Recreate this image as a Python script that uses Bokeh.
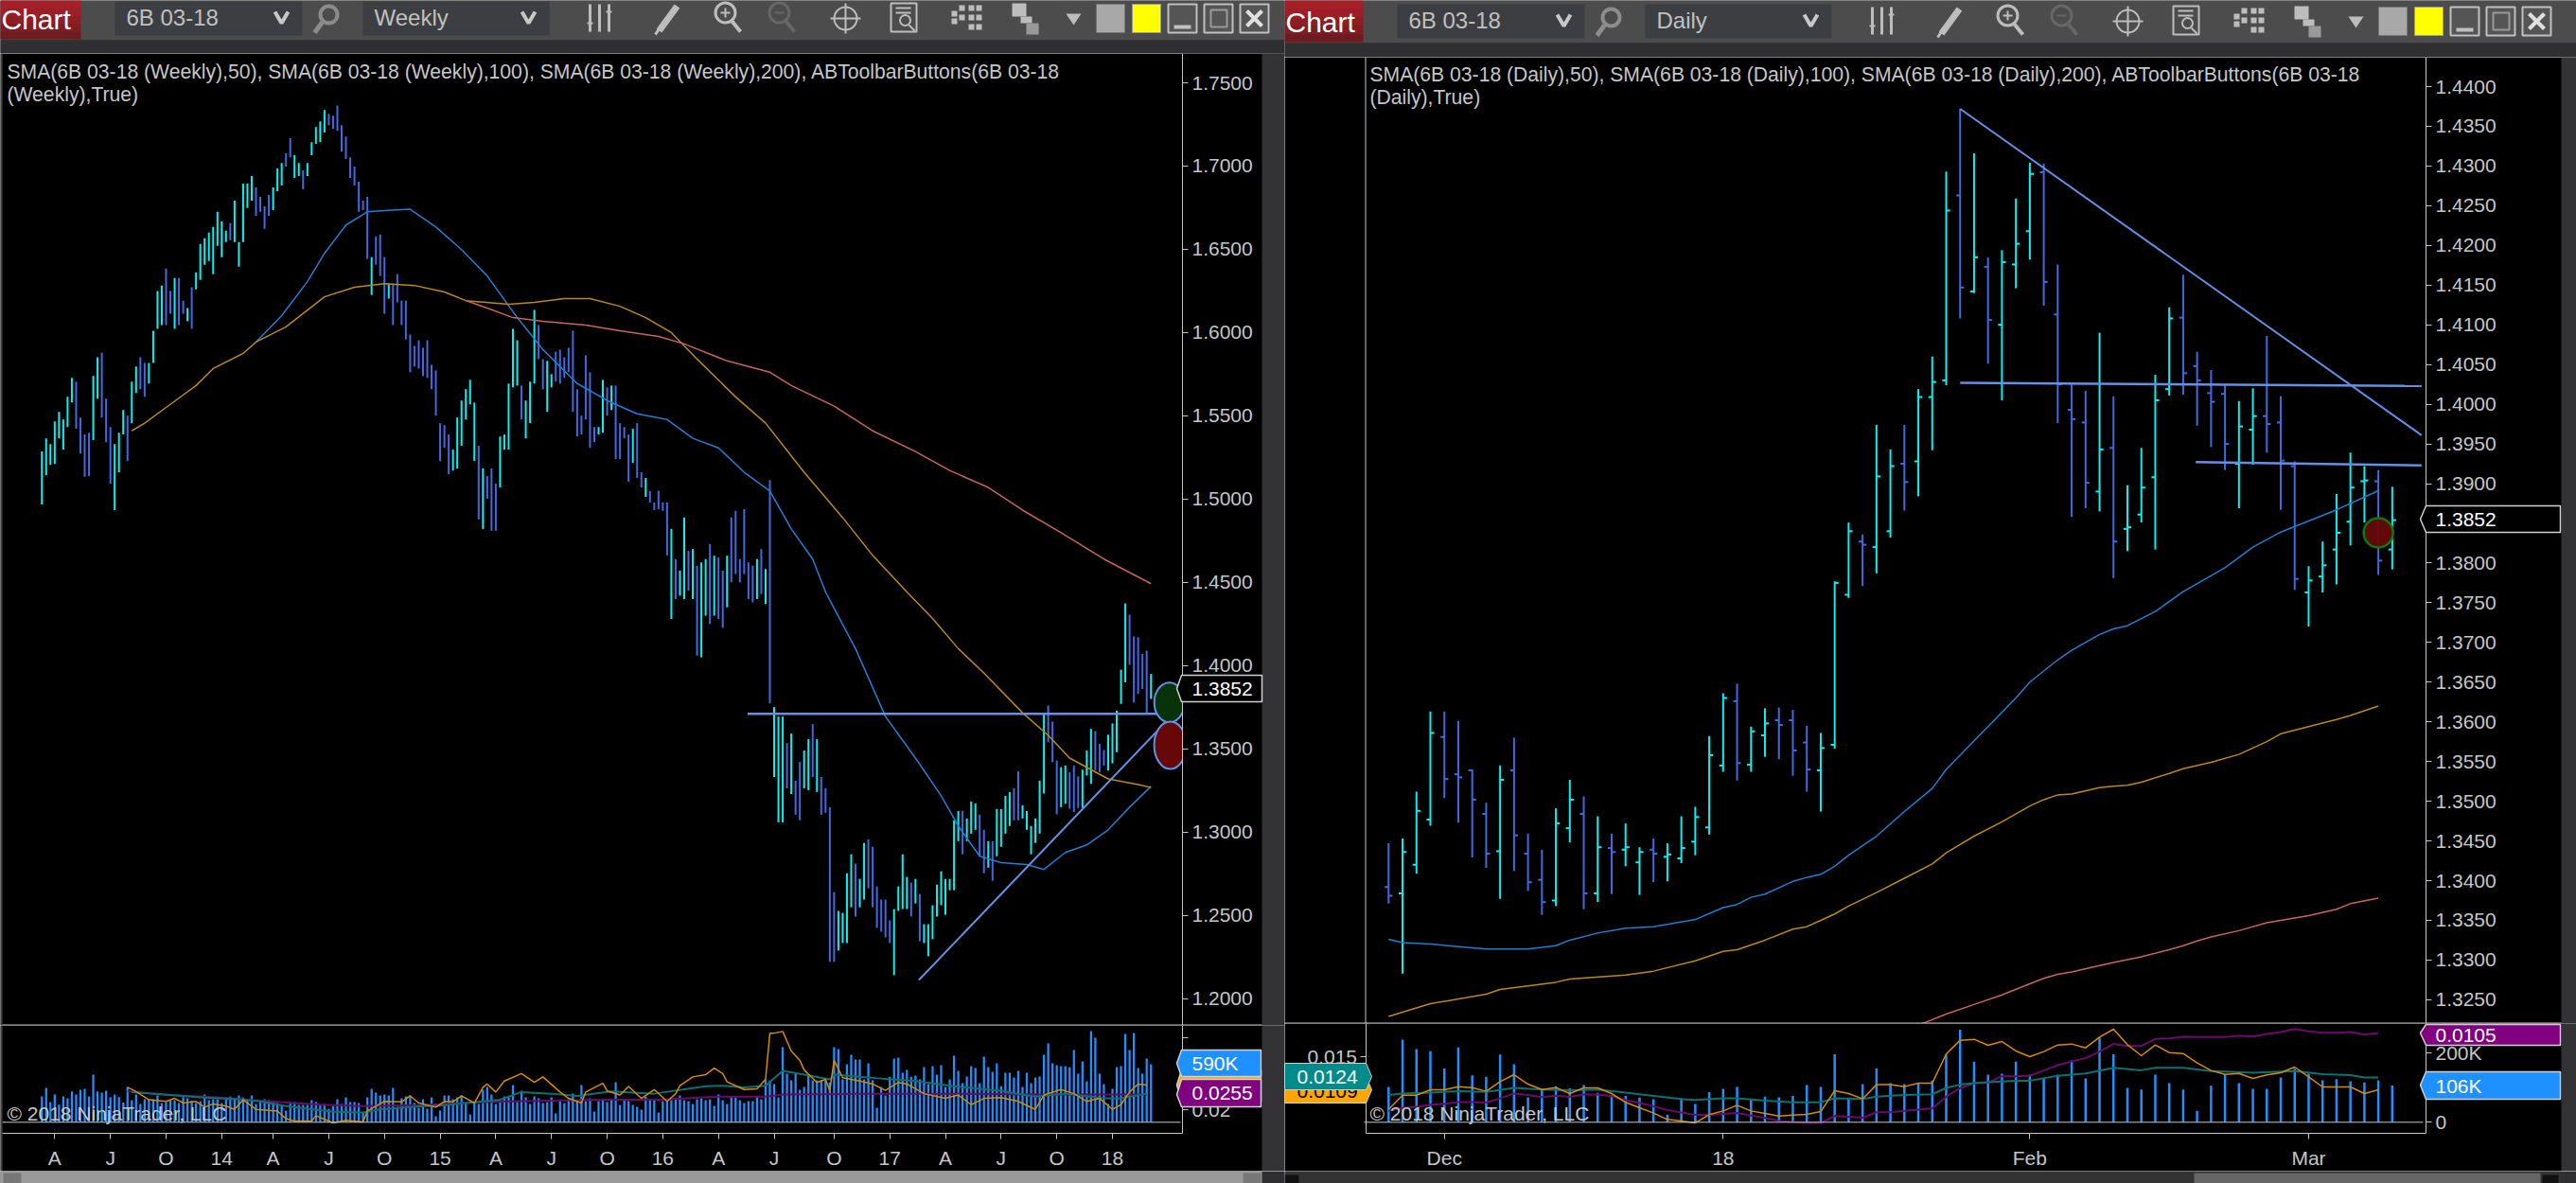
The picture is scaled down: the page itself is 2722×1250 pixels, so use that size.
from bokeh.plotting import figure
from bokeh.layouts import row, column
from bokeh.models import Range1d, LinearAxis, FixedTicker, NumeralTickFormatter
from bokeh.core.properties import value
from bokeh.embed import file_html
from bokeh.resources import INLINE

# ---------- weekly chart data ----------
weekly_high = [1.5286,1.5365,1.5331,1.5467,1.5524,1.5478,1.5614,1.5728,1.5705,1.5490,
1.5388,1.5399,1.5739,1.5852,1.5879,1.5603,1.5433,1.5331,1.5399,1.5535,
1.5501,1.5705,1.5796,1.5852,1.5818,1.5818,1.6011,1.6249,1.6283,1.6385,
1.6249,1.6328,1.6328,1.6192,1.6147,1.6272,1.6362,1.6532,1.6566,1.6600,
1.6634,1.6725,1.6668,1.6612,1.6657,1.6793,1.6544,1.6895,1.6895,1.6940,
1.6872,1.6815,1.6759,1.6827,1.6872,1.6985,1.7019,1.7076,1.7167,1.7065,
1.7019,1.6974,1.7019,1.7144,1.7235,1.7269,1.7337,1.7314,1.7303,1.7364,
1.7246,1.7178,1.7053,1.6997,1.6906,1.6793,1.6815,1.6453,1.6578,1.6589,
1.6453,1.6294,1.6294,1.6351,1.6192,1.6192,1.5988,1.5920,1.5954,1.5909,
1.5954,1.5807,1.5773,1.5456,1.5444,1.5388,1.5297,1.5490,1.5592,1.5660,
1.5716,1.5580,1.5320,1.5184,1.5138,1.5184,1.5093,1.5376,1.5388,1.5694,
1.6022,1.5954,1.5682,1.5592,1.5705,1.6136,1.6045,1.5841,1.5830,1.5750,
1.5886,1.5898,1.5852,1.5909,1.6011,1.5660,1.5501,1.5864,1.5762,1.5433,
1.5433,1.5716,1.5671,1.5682,1.5682,1.5456,1.5433,1.5388,1.5422,1.5456,
1.5161,1.5127,1.5048,1.4980,1.5050,1.4980,1.4980,1.4821,1.4640,1.4570,
1.4890,1.4690,1.4700,1.4600,1.4620,1.4640,1.4730,1.4660,1.4650,1.4570,
1.4660,1.4890,1.4930,1.4640,1.4940,1.4620,1.4600,1.4640,1.4700,1.4580,
1.5115,1.3751,1.3694,1.3694,1.3535,1.3592,1.3309,1.3422,1.3490,1.3558,
1.3649,1.3558,1.3331,1.3263,1.3150,1.2640,1.2527,1.2515,1.2753,1.2867,
1.2810,1.2719,1.2935,1.2957,1.2912,1.2674,1.2595,1.2595,1.2470,1.2538,
1.2674,1.2867,1.2731,1.2697,1.2719,1.2629,1.2447,1.2447,1.2561,1.2685,
1.2765,1.2719,1.2719,1.3071,1.3127,1.3127,1.3082,1.3184,1.3173,1.3105,
1.3014,1.2946,1.2946,1.3139,1.3139,1.3218,1.3241,1.3263,1.3365,1.3161,
1.3127,1.3037,1.3082,1.3309,1.3715,1.3760,1.3664,1.3430,1.3390,1.3400,
1.3360,1.3400,1.3335,1.3375,1.3490,1.3620,1.3607,1.3530,1.3493,1.3585,
1.3653,1.3730,1.3976,1.4374,1.4306,1.4175,1.4170,1.4070,1.4090,1.3950]
weekly_low = [1.4968,1.5143,1.5206,1.5211,1.5365,1.5297,1.5433,1.5580,1.5422,1.5274,
1.5134,1.5138,1.5354,1.5603,1.5490,1.5342,1.5093,1.4934,1.5161,1.5388,
1.5229,1.5456,1.5637,1.5660,1.5614,1.5694,1.5818,1.6022,1.6045,1.6045,
1.6113,1.6022,1.6045,1.6113,1.6068,1.6022,1.6260,1.6317,1.6408,1.6430,
1.6351,1.6521,1.6453,1.6544,1.6555,1.6544,1.6396,1.6544,1.6748,1.6793,
1.6702,1.6725,1.6623,1.6702,1.6736,1.6849,1.6883,1.6997,1.7053,1.6929,
1.6940,1.6861,1.6940,1.7065,1.7133,1.7144,1.7201,1.7246,1.7223,1.7212,
1.7087,1.7042,1.6929,1.6883,1.6725,1.6736,1.6442,1.6226,1.6408,1.6340,
1.6113,1.6204,1.6045,1.6181,1.6045,1.5959,1.5762,1.5796,1.5784,1.5739,
1.5728,1.5660,1.5501,1.5229,1.5308,1.5150,1.5172,1.5184,1.5320,1.5478,
1.5569,1.5229,1.4878,1.4821,1.5002,1.4810,1.4810,1.5070,1.5297,1.5297,
1.5671,1.5682,1.5478,1.5365,1.5456,1.5694,1.5841,1.5660,1.5524,1.5671,
1.5705,1.5694,1.5728,1.5762,1.5524,1.5376,1.5388,1.5478,1.5308,1.5342,
1.5388,1.5399,1.5501,1.5535,1.5240,1.5240,1.5365,1.5104,1.5218,1.5127,
1.5070,1.5014,1.4980,1.4934,1.4940,1.4930,1.4662,1.4280,1.4400,1.4420,
1.4400,1.4450,1.4400,1.4060,1.4050,1.4300,1.4250,1.4300,1.4280,1.4227,
1.4350,1.4500,1.4550,1.4500,1.4550,1.4400,1.4380,1.4400,1.4430,1.4370,
1.3773,1.3331,1.3059,1.3059,1.3263,1.3229,1.3105,1.3071,1.3263,1.3252,
1.3331,1.3241,1.3105,1.3116,1.2221,1.2221,1.2289,1.2334,1.2334,1.2549,
1.2493,1.2549,1.2595,1.2663,1.2549,1.2425,1.2402,1.2368,1.2334,1.2141,
1.2527,1.2538,1.2538,1.2493,1.2572,1.2345,1.2334,1.2255,1.2357,1.2493,
1.2561,1.2504,1.2651,1.2651,1.2946,1.2867,1.2946,1.2991,1.3014,1.2855,
1.2753,1.2787,1.2708,1.2855,1.2912,1.2991,1.3037,1.3071,1.3071,1.3082,
1.3014,1.2867,1.2935,1.2991,1.3232,1.3540,1.3420,1.3107,1.3150,1.3170,
1.3140,1.3120,1.3145,1.3145,1.3340,1.3290,1.3372,1.3360,1.3400,1.3370,
1.3413,1.3480,1.3770,1.3900,1.4005,1.3778,1.3830,1.3860,1.3710,1.3800]
weekly_dir = ("CCCCCCCCBB" "BBCCBBBCCC" "BCCBBCCCCB" "BCBBCBCCCC" "CCCCBCCCCC"
              "BBBBCCCBBC" "CBCCCCCBBB" "BBBBBBBCBB" "BCBBBBBBBB" "BBBBBBCCCC"
              "CCBCBBBCCC" "CCBCCCBBCC" "BBBBBBBBBB" "CCBCBBBBCB" "BCBBBBBCBC"
              "CBCBCCBCBB" "CBBBBBBCBC" "BCCCBCBBCC" "BCBBBBCCCC" "BCCBBBBBBC"
              "CCCBCBCCCC" "CCCCCBCCCB" "BCBCCCCBBC" "CCCCCBBBCC" "BBBCCCBBBC"
              "CCCCBBBBBC")
weekly_vol = [263,349,205,282,179,263,244,314,282,330,
340,263,484,314,301,321,256,282,256,199,
359,224,282,186,234,234,234,272,196,205,
224,224,196,256,244,221,196,215,282,224,
234,234,196,244,263,234,272,253,234,272,
186,205,234,224,205,196,176,119,205,205,
176,176,176,224,205,176,186,138,167,234,
186,253,205,205,196,99,253,340,301,272,
282,272,349,157,244,263,272,196,147,234,
138,253,61,119,272,272,234,253,272,196,
80,196,186,330,359,282,186,205,263,253,
378,215,321,253,186,263,244,196,205,253,
90,215,196,237,292,224,378,215,244,109,
215,224,205,234,407,176,234,215,176,157,
128,263,234,234,99,215,
215,224,234,272,224,215,186,234,244,224,
234,167,282,224,186,253,253,224,196,215,
215,263,234,436,426,388,253,763,494,426,
494,330,359,474,426,426,426,426,404,763,
744,436,590,686,638,638,436,599,426,147,
359,272,462,647,657,503,532,462,474,436,
561,388,571,484,580,359,436,676,522,397,
465,571,551,397,667,561,513,599,365,503,
503,455,522,359,503,397,455,465,686,801,
599,580,571,571,558,734,494,619,417,926,
859,494,388,186,340,561,571,897,734,907,
551,494,647,590]
w_sma50_i = [50,56,62,66,71,76,81,86,92,98,104,111,117,125,132,139,146,152,158,164,170,175,180,183,190,197,204,210,214,219,224,230,234,239,244,249,254,259]
w_sma50 = [1.5943,1.6102,1.6306,1.6476,1.6646,1.6725,1.6734,1.6741,1.6634,1.6498,1.6340,1.6090,1.5898,1.5694,1.5592,1.5512,1.5478,1.5365,1.5308,1.5161,1.5048,1.4821,1.4640,1.4442,1.4102,1.3694,1.3445,1.3218,1.3037,1.2855,1.2817,1.2806,1.2776,1.2878,1.2923,1.3014,1.3150,1.3275]
w_sma100_i = [21,24,30,36,40,47,50,57,66,73,80,87,94,99,109,115,122,128,135,141,147,153,162,169,178,187,194,202,208,214,220,229,235,240,249,256,259]
w_sma100 = [1.5410,1.5456,1.5569,1.5682,1.5784,1.5875,1.5943,1.6034,1.6215,1.6272,1.6294,1.6283,1.6244,1.6192,1.6170,1.6181,1.6204,1.6204,1.6158,1.6090,1.6000,1.5841,1.5614,1.5456,1.5161,1.4889,1.4662,1.4442,1.4283,1.4102,1.3955,1.3717,1.3581,1.3445,1.3320,1.3286,1.3268]
w_sma200_i = [99,104,110,117,127,135,144,150,160,170,175,185,194,204,212,221,229,238,248,259]
w_sma200 = [1.6192,1.6147,1.6090,1.6068,1.6045,1.6011,1.5977,1.5932,1.5830,1.5762,1.5682,1.5558,1.5410,1.5286,1.5172,1.5070,1.4934,1.4798,1.4640,1.4492]
w_atr_i = [20,22,25,29,31,33,36,38,40,43,45,47,50,55,57,59,63,64,68,71,75,76,80,84,86,88,92,94,96,98,101,103,104,106,108,112,115,117,121,123,126,127,131,132,135,137,140,143,
146,148,149,152,155,157,159,160,164,167,169,170,171,173,175,177,178,181,183,184,185,187,191,194,197,200,202,204,206,211,214,217,220,224,228,232,234,238,241,244,247,250,252,254,256,258]
w_atr = [.0281,.0266,.0236,.0230,.0241,.0224,.0230,.0209,.0221,.0213,.0201,.0236,.0201,.0195,.0167,.0159,.0159,.0178,.0152,.0161,.0155,.0195,.0230,.0228,.0250,.0224,.0209,.0230,.0228,.0250,.0224,.0281,.0293,.0264,.0304,.0331,.0299,.0319,.0264,.0241,.0224,.0264,.0296,.0268,.0253,.0284,.0241,.0273,
.0230,.0258,.0287,.0319,.0327,.0351,.0331,.0301,.0273,.0276,.0310,.0478,.0478,.0484,.0413,.0379,.0344,.0299,.0310,.0270,.0379,.0316,.0304,.0293,.0270,.0299,.0293,.0276,.0258,.0241,.0253,.0218,.0241,.0244,.0230,.0201,.0253,.0273,.0258,.0230,.0241,.0201,.0218,.0264,.0293,.0289]
w_teal_i = [21,38,46,51,57,68,75,79,89,92,99,107,112,119,125,133,143,155,159,164,169,173,178,184,185,196,204,213,224,232,239,248,252,258]
w_teal = [.0264,.0244,.0238,.0230,.0213,.0192,.0190,.0201,.0213,.0213,.0224,.0236,.0264,.0258,.0250,.0266,.0258,.0285,.0287,.0281,.0287,.0341,.0327,.0310,.0327,.0313,.0304,.0285,.0268,.0247,.0258,.0241,.0241,.0258]
w_purple_i = [20,30,42,53,65,75,89,104,119,131,144,158,169,173,194,214,234,258]
w_purple = [.0266,.0253,.0244,.0230,.0218,.0213,.0216,.0228,.0233,.0236,.0236,.0247,.0247,.0255,.0258,.0258,.0255,.0255]
w_ticks = [3,16,29,42,54,67,80,93,106,119,132,145,158,171,185,198,211,224,237,250]
w_tick_labels = ["A","J","O","14","A","J","O","15","A","J","O","16","A","J","O","17","A","J","O","18"]
w_hline_i = [164.8,266]; w_hline = [1.3710,1.3710]
w_trend_i = [204.8,266.6]; w_trend = [1.2112,1.3772]

# ---------- daily chart data ----------
daily_high = [1.3447,1.3453,1.3512,1.3613,1.3613,1.3601,1.3540,1.3498,1.3545,1.3580,
1.3459,1.3439,1.3491,1.3527,1.3506,1.3481,1.3459,1.3472,1.3442,1.3453,
1.3447,1.3481,1.3493,1.3582,1.3636,1.3648,1.3594,1.3617,1.3618,1.3615,
1.3595,1.3586,1.3777,1.3851,1.3836,1.3974,1.3943,1.3974,1.4019,1.4060,
1.4293,1.4372,1.4316,1.4185,1.4194,1.4259,1.4304,1.4303,1.4176,1.4025,
1.4017,1.4090,1.4010,1.3898,1.3945,1.4037,1.4122,1.4163,1.4066,1.4043,
1.4024,1.4004,1.4020,1.4086,1.4010,1.3928,1.3796,1.3827,1.3887,1.3939,
1.3922,1.3917,1.3896]
daily_low = [1.3371,1.3283,1.3409,1.3469,1.3504,1.3473,1.3429,1.3416,1.3377,1.3412,
1.3387,1.3357,1.3368,1.3448,1.3364,1.3373,1.3383,1.3418,1.3382,1.3398,
1.3399,1.3422,1.3432,1.3458,1.3537,1.3526,1.3537,1.3556,1.3553,1.3532,
1.3512,1.3487,1.3566,1.3756,1.3771,1.3787,1.3832,1.3866,1.3884,1.3942,
1.4024,1.4108,1.4140,1.4051,1.4005,1.4146,1.4182,1.4124,1.3976,1.3858,
1.3869,1.3865,1.3781,1.3815,1.3851,1.3817,1.4011,1.4012,1.3973,1.3946,
1.3917,1.3869,1.3924,1.3939,1.3867,1.3766,1.3720,1.3763,1.3773,1.3822,
1.3851,1.3785,1.3792]
daily_open = [1.3392,1.3384,1.3420,1.3477,1.3581,1.3534,1.3539,1.3484,1.3437,1.3539,
1.3434,1.3401,1.3375,1.3466,1.3484,1.3384,1.3441,1.3439,1.3423,1.3439,
1.3430,1.3428,1.3449,1.3467,1.3545,1.3626,1.3546,1.3583,1.3602,1.3602,
1.3574,1.3539,1.3571,1.3760,1.3827,1.3820,1.3840,1.3925,1.3928,1.4009,
1.4030,1.4263,1.4142,1.4173,1.4100,1.4176,1.4218,1.4292,1.4113,1.3993,
1.3977,1.3890,1.3945,1.3843,1.3861,1.3908,1.4019,1.4109,1.4048,1.4014,
1.4013,1.3925,1.3968,1.3985,1.3977,1.3922,1.3763,1.3783,1.3817,1.3852,
1.3903,1.3903,1.3817]
daily_close = [1.3381,1.3436,1.3488,1.3586,1.3528,1.3530,1.3502,1.3434,1.3527,1.3457,
1.3398,1.3373,1.3472,1.3502,1.3384,1.3442,1.3436,1.3442,1.3436,1.3434,
1.3433,1.3441,1.3480,1.3558,1.3630,1.3548,1.3588,1.3598,1.3596,1.3564,
1.3540,1.3567,1.3775,1.3840,1.3823,1.3909,1.3922,1.3902,1.4009,1.4028,
1.4244,1.4147,1.4185,1.4106,1.4179,1.4202,1.4290,1.4154,1.4025,1.3981,
1.3901,1.3943,1.3827,1.3845,1.3895,1.4005,1.4108,1.4039,1.4030,1.4003,
1.3950,1.3972,1.3985,1.3975,1.3929,1.3780,1.3778,1.3797,1.3838,1.3895,
1.3904,1.3803,1.3854]
daily_dir = ("BCCCBBBBCB" "BBCCBCBCCB" "CCCCCBCCBB" "BCCCBCCBCC" "CBCBCCCBBB" "BCBCCCCBBB" "BCCBBBCCCC" "CBC")
daily_vol = [102,238,211,205,155,216,135,131,195,167,72,96,104,98,107,85,78,76,71,66,22,69,53,87,96,102,65,74,72,76,107,102,196,71,110,155,113,110,111,120,195,
267,175,137,140,175,137,128,137,178,126,244,196,99,94,137,113,94,33,105,137,113,96,96,129,154,140,121,124,118,115,121,106]
d_sma50_i = [0,1,3,5,7,10,12,13,15,17,19,22,24,25,26,27,29,30,31,32,33,35,37,39,40,42,43,45,46,48,49,51,52,53,54,55,57,60,62,64,68,71]
d_sma50 = [1.3326,1.3322,1.3320,1.3317,1.3314,1.3314,1.3318,1.3325,1.3334,1.3340,1.3342,1.3351,1.3366,1.3370,1.3379,1.3383,1.3399,1.3404,1.3408,1.3418,1.3432,1.3456,1.3487,1.3516,1.3540,1.3576,1.3594,1.3630,1.3650,1.3678,1.3690,1.3710,1.3717,1.3721,1.3730,1.3739,1.3764,1.3794,1.3820,1.3839,1.3867,1.3891]
d_sma100_i = [0,3,7,8,12,13,17,19,22,24,25,27,29,30,31,32,33,35,37,39,40,42,44,46,47,48,49,51,52,53,54,56,57,59,61,63,64,66,68,69,71]
d_sma100 = [1.3229,1.3245,1.3257,1.3263,1.3272,1.3276,1.3281,1.3286,1.3299,1.3311,1.3313,1.3325,1.3339,1.3342,1.3350,1.3358,1.3368,1.3385,1.3403,1.3421,1.3435,1.3456,1.3474,1.3494,1.3502,1.3508,1.3509,1.3517,1.3519,1.3520,1.3524,1.3535,1.3541,1.3549,1.3559,1.3575,1.3585,1.3594,1.3603,1.3608,1.3620]
d_sma200_i = [38,40,42,44,46,47,48,49,51,52,54,56,57,58,59,61,63,66,68,69,71]
d_sma200 = [1.3218,1.3232,1.3244,1.3256,1.3270,1.3277,1.3282,1.3285,1.3293,1.3297,1.3304,1.3313,1.3318,1.3324,1.3329,1.3337,1.3347,1.3356,1.3364,1.3371,1.3378]
d_orange = [.00842,.01019,.01019,.01086,.01086,.01126,.01114,.01067,.01189,.01275,.01157,.0109,.01114,.01039,.0111,.0111,.01039,.00929,.00862,.00795,.00716,.00696,.00673,.00775,.00822,.00893,.00822,.00791,.00759,.00771,.00779,.00814,.01075,.01039,.00972,.0115,.0115,.01126,.01169,.01169,.01532,
.01705,.01717,.01642,.01689,.01571,.015,.01563,.01646,.01658,.0161,.01744,.01843,.0165,.01512,.01646,.01551,.01539,.01421,.01327,.01279,.01291,.01228,.01272,.01299,.0137,.01248,.01122,.01122,.01122,.01039,.01086]
d_teal_i = [0,1,3,5,7,9,11,13,15,17,19,21,22,24,25,27,29,31,32,34,35,37,39,40,41,42,43,45,46,48,50,52,54,55,57,59,62,65,67,69,70,71]
d_teal = [.0102,.0104,.0105,.0107,.0106,.0111,.0109,.0108,.0109,.0105,.0101,.0097,.0096,.0098,.0098,.0095,.0093,.0093,.0098,.0097,.0100,.0102,.0103,.0111,.0115,.0117,.0118,.0120,.0120,.0126,.0129,.0136,.0133,.0136,.0136,.0132,.0130,.0132,.0128,.0127,.0124,.0124]
d_purple = [.00701,.00715,.00719,.00729,.00732,.0074,.0074,.00738,.00757,.00779,.00772,.00763,.00769,.00764,.00774,.00774,.00767,.0075,.00736,.00722,.00705,.00694,.00683,.00683,.00687,.00692,.0068,.0067,.00656,.00651,.00647,.00647,.00678,.00675,.0067,.00695,.00695,.00701,.00707,.00712,.00764,
.00803,.00824,.00828,.00856,.00856,.00859,.00882,.00906,.00923,.00937,.00967,.01001,.00992,.00992,.01023,.01026,.01033,.01032,.01032,.01032,.01037,.01034,.01046,.01054,.01068,.01057,.01051,.01051,.01054,.01043,.0105]
d_ticks = [4,24,46,66]
d_tick_labels = ["Dec","18","Feb","Mar"]
d_down_i = [41,74.1]; d_down = [1.4372,1.3961]
d_h1_i = [41,74.1]; d_h1 = [1.4027,1.4023]
d_h2_i = [57.9,74.1]; d_h2 = [1.3927,1.3923]

# ---------- styling ----------
FONT = "Liberation Sans"
GREY = "#c6c6c6"
CYAN, BLUE = "#00f4f4", "#4169e1"
VOLC = "#1e90ff"
TREND = "#6490e6"
SMA = ["#1f7fd4", "#bb8a14", "#c9645c"]
ORANGE, TEAL, PURPLE = "#d98a00", "#0a7272", "#6c0a6c"
BAND = "#333335"
COLS = {"C": CYAN, "B": BLUE}
LEG = "21.15px"


def pane(x0, x1, y0, y1, xf, yf, extra=None):
    """A figure covering page pixels x0..x1, y0..y1 with a scale of its own and a 'px' scale."""
    p = figure(width=x1-x0, height=y1-y0, x_range=Range1d(xf(x0), xf(x1)), y_range=Range1d(yf(y1), yf(y0)),
               x_axis_location=None, y_axis_location=None, min_border=0, toolbar_location=None,
               output_backend="svg", background_fill_color="black", border_fill_color="black",
               outline_line_color=None)
    p.grid.visible = False
    p.extra_x_ranges = {"px": Range1d(x0, x1)}
    p.extra_y_ranges = {"px": Range1d(y1, y0)}
    for k, (a, b) in (extra or {}).items():
        p.extra_y_ranges[k] = Range1d(a, b)
    return p


def style_axis(a, standoff):
    a.major_label_text_font = FONT
    a.major_label_text_font_size = "21px"
    a.major_label_text_color = GREY
    a.axis_line_color = GREY
    a.major_tick_line_color = GREY
    a.minor_tick_line_color = None
    a.major_tick_in = 0
    a.major_tick_out = 6
    a.major_label_standoff = standoff


def txt(p, x, y, s, color=GREY, size="21px", align="left", level="overlay"):
    return p.text(x=[x], y=[y], text=[s], x_range_name="px", y_range_name="px", text_font=value(FONT),
                  text_font_size=size, text_color=color, text_align=align, text_baseline="middle", level=level)


def box(p, l, r, t, b, color, line=None, level="glyph", lw=1):
    return p.quad(left=[l], right=[r], top=[t], bottom=[b], x_range_name="px", y_range_name="px",
                  fill_color=color, line_color=line, line_width=lw, level=level)


def seg(p, xs, ys, color=GREY, lw=1, level="glyph"):
    return p.line(xs, ys, x_range_name="px", y_range_name="px", line_color=color, line_width=lw, level=level)


def tag(p, tip, body, far, t, b, tip_y, fill, label, tx, tcolor="white", line="#d0d0d0"):
    p.patch([tip, body, far, far, body], [tip_y, t, t, b, b], x_range_name="px", y_range_name="px",
            fill_color=fill, line_color=line, line_width=1.5, level="overlay")
    txt(p, tx, (t+b)/2, label, color=tcolor)


def chrome(p, dx, dy, period):
    box(p, dx-10, dx+1400, 0, 42+dy, "#4c4c4c")
    box(p, dx-10, dx+1400, 42+dy, 62, "#2f2f31")
    shades = ["#a81f28", "#9d1e26", "#8f1d24", "#801c22", "#701b20"]
    for k, c in enumerate(shades):
        box(p, dx-2, dx+85, k*(41+dy)/5, (k+1)*(41+dy)/5, c)
    txt(p, dx+(1 if dx == 0 else 3), 20+dy, "Chart", "white", "30px")
    for l, r, s, tx in [(121, 319, "6B 03-18", 133), (383, 580, period, 395)]:
        box(p, dx+l, dx+r, 1+dy, 37+dy, "#3d3e42")
        txt(p, dx+tx, 18+dy, s, "#c0c0c0", "24px")
        c = r-22
        p.line([dx+c-7, dx+c, dx+c+7], [12+dy, 24+dy, 12+dy], x_range_name="px", y_range_name="px", line_color="#c8c8c8", line_width=4)
    # magnifier next to the instrument box
    ic = "#bdbdbd"
    p.ellipse([dx+347], [15+dy], width=18, height=18, x_range_name="px", y_range_name="px", fill_color=None, line_color="#8c8c8c", line_width=4)
    seg(p, [dx+340, dx+332], [23+dy, 34+dy], "#8c8c8c", 5)
    # bars icon
    for x in (623, 633, 643):
        seg(p, [dx+x, dx+x], [4+dy, 33+dy], ic, 3)
    seg(p, [dx+620, dx+626], [24+dy, 24+dy], ic, 2); seg(p, [dx+640, dx+646], [12+dy, 12+dy], ic, 2)
    # pencil
    seg(p, [dx+696, dx+715], [32+dy, 6+dy], ic, 7); seg(p, [dx+692, dx+696], [36+dy, 30+dy], ic, 3)
    # zoom in, zoom out
    for x, c in ((766, ic), (823, "#666666")):
        p.ellipse([dx+x], [13+dy], width=21, height=21, x_range_name="px", y_range_name="px", fill_color=None, line_color=c, line_width=3)
        seg(p, [dx+x+7, dx+x+16], [22+dy, 33+dy], c, 4)
        seg(p, [dx+x-5, dx+x+5], [13+dy, 13+dy], c, 2)
    seg(p, [dx+766, dx+766], [8+dy, 18+dy], ic, 2)
    # crosshair
    p.ellipse([dx+893], [19+dy], width=24, height=24, x_range_name="px", y_range_name="px", fill_color=None, line_color=ic, line_width=2)
    seg(p, [dx+893, dx+893], [3+dy, 35+dy], ic, 2); seg(p, [dx+877, dx+909], [19+dy, 19+dy], ic, 2)
    # document
    box(p, dx+941, dx+968, 3+dy, 33+dy, "#4c4c4c", ic, lw=2)
    for y in (8, 13):
        seg(p, [dx+946, dx+962], [y+dy, y+dy], ic, 2)
    p.ellipse([dx+956], [21+dy], width=11, height=11, x_range_name="px", y_range_name="px", fill_color=None, line_color=ic, line_width=2)
    seg(p, [dx+960, dx+966], [26+dy, 32+dy], ic, 2)
    # dots
    for (x, y) in ((1008, 14), (1008, 22), (1016, 8), (1016, 18), (1026, 8), (1034, 8), (1026, 18), (1034, 18), (1026, 28), (1034, 28)):
        box(p, dx+x-3, dx+x+3, y+dy-3, y+dy+3, ic)
    # blocks
    box(p, dx+1069, dx+1084, 3+dy, 17+dy, ic); box(p, dx+1078, dx+1090, 17+dy, 24+dy, ic)
    box(p, dx+1084, dx+1097, 24+dy, 36+dy, "#999999")
    # triangle
    p.patch([dx+1126, dx+1142, dx+1134], [14+dy, 14+dy, 26+dy], x_range_name="px", y_range_name="px", fill_color=ic, line_color=None)
    # window buttons
    box(p, dx+1158, dx+1188, 4+dy, 34+dy, "#a8a8a8", "#777777")
    box(p, dx+1196, dx+1226, 4+dy, 34+dy, "#ffff00", "#999999")
    for l in (1234, 1272, 1310):
        box(p, dx+l, dx+l+30, 4+dy, 34+dy, "#555555", "#c0c0c0", lw=2)
    seg(p, [dx+1240, dx+1258], [28+dy, 28+dy], "#c0c0c0", 4)
    box(p, dx+1279, dx+1296, 10+dy, 28+dy, "#555555", "#9a9a9a", lw=2)
    seg(p, [dx+1317, dx+1333], [11+dy, 27+dy], "#e0e0e0", 4); seg(p, [dx+1333, dx+1317], [11+dy, 27+dy], "#e0e0e0", 4)


def simple(x0, x1, y0, y1):
    p = figure(width=x1-x0, height=y1-y0, x_range=Range1d(x0, x1), y_range=Range1d(y1, y0),
               x_axis_location=None, y_axis_location=None, min_border=0, toolbar_location=None,
               output_backend="svg", background_fill_color="#2f2f31", border_fill_color="#2f2f31",
               outline_line_color=None)
    p.grid.visible = False
    p.extra_x_ranges = {"px": Range1d(x0, x1)}
    p.extra_y_ranges = {"px": Range1d(y1, y0)}
    return p


# ========== LEFT: weekly ==========
wx = lambda px: (px-43.75)/4.525
wy = lambda py: 1.75-(py-87)/1759.5
wv = lambda py: (1185.3-py)/0.104
wo = lambda py: 0.02+(1172-py)/2909

top_l = simple(0, 1357, 0, 56)
chrome(top_l, 0, 0, "Weekly")

pw = pane(0, 1357, 56, 1083, wx, wy)
idx = list(range(len(weekly_high)))
pw.segment(x0=idx, y0=weekly_low, x1=idx, y1=weekly_high, line_color=[COLS[c] for c in weekly_dir], line_width=2)
pw.line(w_sma50_i, w_sma50, line_color=SMA[0], line_width=1.5)
pw.line(w_sma100_i, w_sma100, line_color=SMA[1], line_width=1.5)
pw.line(w_sma200_i, w_sma200, line_color=SMA[2], line_width=1.5)
pw.line(w_hline_i, w_hline, line_color=TREND, line_width=2.5)
pw.line(w_trend_i, w_trend, line_color=TREND, line_width=2)
pw.ellipse([263.3], [1.3779], width=32, height=42, width_units="screen", height_units="screen",
           fill_color="#08320a", line_color=TREND, line_width=2)
pw.ellipse([263.5], [1.3522], width=34, height=50, width_units="screen", height_units="screen",
           fill_color="#660808", line_color=TREND, line_width=2)
box(pw, 1248.5, 1357, 56, 1083, "black")
box(pw, 1333, 1357, 56, 1083, BAND)
box(pw, 0, 2, 56, 1083, "#444446")
ax = LinearAxis(fixed_location=wx(1249), ticker=FixedTicker(ticks=[1.20+0.05*k for k in range(12)]),
                formatter=NumeralTickFormatter(format="0.0000"))
style_axis(ax, 4)
pw.add_layout(ax, "right")
seg(pw, [2, 1333], [1082.5, 1082.5], GREY, 1)
txt(pw, 7, 75, "SMA(6B 03-18 (Weekly),50), SMA(6B 03-18 (Weekly),100), SMA(6B 03-18 (Weekly),200), ABToolbarButtons(6B 03-18", size=LEG)
txt(pw, 7, 99, "(Weekly),True)", size=LEG)
tag(pw, 1243, 1248, 1333, 713, 741, 727, "black", "1.3852", 1259)

iw = pane(0, 1357, 1083, 1237, wx, wv, {"osc": (wo(1237), wo(1083))})
iw.vbar(x=idx, top=weekly_vol, bottom=0, width=0.5, fill_color=VOLC, line_color=None)
iw.line(w_purple_i, w_purple, y_range_name="osc", line_color=PURPLE, line_width=2)
iw.line(w_teal_i, w_teal, y_range_name="osc", line_color=TEAL, line_width=2)
iw.line(w_atr_i, w_atr, y_range_name="osc", line_color=ORANGE, line_width=1.5)
iw.line([wx(2), wx(1247)], [0, 0], line_color=GREY, line_width=1)
box(iw, 1333, 1357, 1083, 1237, BAND)
box(iw, 0, 2, 1083, 1237, "#444446")
xa = LinearAxis(fixed_location=wv(1196.6), ticker=FixedTicker(ticks=w_ticks),
                major_label_overrides=dict(zip(w_ticks, w_tick_labels)))
style_axis(xa, 9)
xa.bounds = (wx(2), wx(1249))
iw.add_layout(xa, "below")
oa = LinearAxis(y_range_name="osc", fixed_location=wx(1249), ticker=FixedTicker(ticks=[0.02, 0.046]),
                major_label_overrides={0.02: "0.02", 0.046: ""})
style_axis(oa, 4)
oa.bounds = (wo(1196.6), wo(1083))
iw.add_layout(oa, "right")
txt(iw, 7, 1176, "\u00a9 2018 NinjaTrader, LLC")
tag(iw, 1243, 1248, 1332, 1130, 1163, 1146, "#ffa500", "0.0299", 1259, "black")
tag(iw, 1243, 1248, 1332, 1109, 1137, 1123, VOLC, "590K", 1259)
tag(iw, 1243, 1248, 1332, 1140, 1169, 1156, "#800080", "0.0255", 1259)

bot_l = simple(0, 1357, 1237, 1250)
box(bot_l, 0, 1333, 1237, 1250, "#9a9a9a")
box(bot_l, 3, 22, 1239, 1250, "#777777")
box(bot_l, 1313, 1332, 1239, 1250, "#777777")

# ========== RIGHT: daily ==========
dx = lambda px: (px-1466.8)/14.73
dy = lambda py: 1.44-(py-91)/8390
dv = lambda py: (1185.3-py)/0.3665
do = lambda py: 0.015-(py-1116)/8461
dp = lambda py: 0.0105-((py-1060)*3-93)/70750

top_r = simple(1357, 2722, 0, 60)
chrome(top_r, 1355, 3, "Daily")

pd_ = pane(1357, 2722, 60, 1081, dx, dy)
ids = list(range(len(daily_high)))
cols_d = [COLS[c] for c in daily_dir]
pd_.segment(x0=ids, y0=daily_low, x1=ids, y1=daily_high, line_color=cols_d, line_width=2)
pd_.segment(x0=[i-0.28 for i in ids], y0=daily_open, x1=ids, y1=daily_open, line_color=cols_d, line_width=2)
pd_.segment(x0=ids, y0=daily_close, x1=[i+0.28 for i in ids], y1=daily_close, line_color=cols_d, line_width=2)
pd_.line(d_sma50_i, d_sma50, line_color=SMA[0], line_width=1.5)
pd_.line(d_sma100_i, d_sma100, line_color=SMA[1], line_width=1.5)
pd_.line(d_sma200_i, d_sma200, line_color=SMA[2], line_width=1.5)
pd_.line(d_down_i, d_down, line_color=TREND, line_width=2)
pd_.line(d_h1_i, d_h1, line_color=TREND, line_width=2.5)
pd_.line(d_h2_i, d_h2, line_color=TREND, line_width=2.5)
pd_.scatter([71], [1.3838], size=31, fill_color="#660808", fill_alpha=0.95, line_color="#0a7a0a", line_width=2.5)
box(pd_, 2706, 2722, 60, 1081, BAND)
ay = LinearAxis(fixed_location=dx(2563), ticker=FixedTicker(ticks=[1.325+0.005*k for k in range(24)]),
                formatter=NumeralTickFormatter(format="0.0000"))
style_axis(ay, 4)
pd_.add_layout(ay, "right")
seg(pd_, [1442.5, 1442.5], [60, 1081], GREY, 1)
seg(pd_, [1357, 2706], [1080.5, 1080.5], GREY, 1)
txt(pd_, 1447, 78, "SMA(6B 03-18 (Daily),50), SMA(6B 03-18 (Daily),100), SMA(6B 03-18 (Daily),200), ABToolbarButtons(6B 03-18", size=LEG)
txt(pd_, 1447, 102, "(Daily),True)", size=LEG)
tag(pd_, 2557, 2563, 2705, 534, 562, 548, "black", "1.3852", 2573)

id_ = pane(1357, 2722, 1081, 1237, dx, dv, {"osc": (do(1237), do(1081)), "pur": (dp(1237), dp(1081))})
id_.segment(x0=ids, y0=[0]*len(ids), x1=ids, y1=daily_vol, line_color=VOLC, line_width=2.5)
id_.line(list(range(len(d_purple))), d_purple, y_range_name="pur", line_color=PURPLE, line_width=2)
id_.line(d_teal_i, d_teal, y_range_name="osc", line_color=TEAL, line_width=2)
id_.line(list(range(len(d_orange))), d_orange, y_range_name="osc", line_color=ORANGE, line_width=1.5)
id_.line([dx(1441), dx(2560)], [0, 0], line_color=GREY, line_width=1)
box(id_, 2706, 2722, 1081, 1237, BAND)
xb = LinearAxis(fixed_location=dv(1196.6), ticker=FixedTicker(ticks=d_ticks),
                major_label_overrides=dict(zip(d_ticks, d_tick_labels)))
style_axis(xb, 9)
xb.bounds = (dx(1442.5), dx(2563))
id_.add_layout(xb, "below")
vy = LinearAxis(fixed_location=dx(2563), ticker=FixedTicker(ticks=[0, 200]),
                major_label_overrides={0: "0", 200: "200K"})
style_axis(vy, 4)
vy.bounds = (dv(1196.6), dv(1081))
id_.add_layout(vy, "right")
ol = LinearAxis(y_range_name="osc", fixed_location=dx(1442.5), ticker=FixedTicker(ticks=[0.015, 0.01]),
                major_label_overrides={0.015: "0.015", 0.01: "0.01"})
style_axis(ol, 3)
ol.bounds = (do(1196.6), do(1081))
id_.add_layout(ol, "left")
txt(id_, 1447, 1176, "\u00a9 2018 NinjaTrader, LLC")
tag(id_, 2557, 2563, 2705, 1082, 1104, 1091, "#800080", "0.0105", 2573)
tag(id_, 2557, 2563, 2705, 1132, 1161, 1146, VOLC, "106K", 2573)
id_.patch([1449, 1443, 1357, 1357, 1443], [1151, 1137, 1137, 1165, 1165], x_range_name="px", y_range_name="px",
          fill_color="#ffa500", line_color="#d0d0d0", line_width=1, level="overlay")
txt(id_, 1370, 1152, "0.0109", "black")
id_.patch([1449, 1443, 1357, 1357, 1443], [1137, 1123, 1123, 1151, 1151], x_range_name="px", y_range_name="px",
          fill_color="#008b8b", line_color="#d0d0d0", line_width=1, level="overlay")
txt(id_, 1370, 1137, "0.0124", "white")

bot_r = simple(1357, 2722, 1237, 1250)
box(bot_r, 1357, 2705, 1237, 1250, "#333333")
box(bot_r, 2318, 2684, 1239, 1250, "#666666")
box(bot_r, 1357, 1372, 1241, 1250, "#111111")
box(bot_r, 2686, 2703, 1241, 1250, "#111111")

layout = row(column(top_l, pw, iw, bot_l, spacing=0), column(top_r, pd_, id_, bot_r, spacing=0), spacing=0)
open("out.html", "w").write(file_html(layout, INLINE))
